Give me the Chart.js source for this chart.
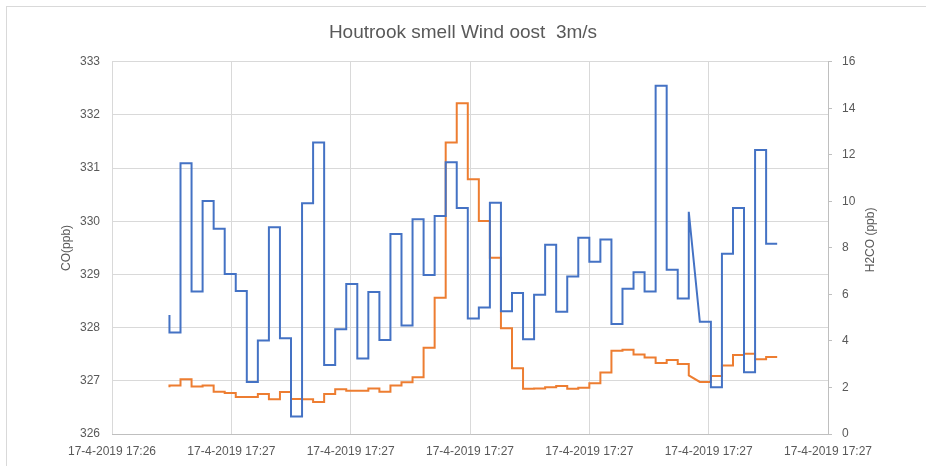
<!DOCTYPE html>
<html>
<head>
<meta charset="utf-8">
<title>Houtrook smell Wind oost 3m/s</title>
<script src="https://cdn.jsdelivr.net/npm/chart.js@4.4.1/dist/chart.umd.min.js"></script>
<style>
  html, body { margin: 0; padding: 0; background: #fff; }
  #wrap { width: 926px; height: 466px; }
</style>
</head>
<body>
<div id="wrap"><canvas id="chart" width="926" height="466"></canvas></div>
<script>
// sample times, seconds after 17:26:00 (one reading per second)
const sampleSeconds = [
  58, 59, 60, 61, 62, 63, 64, 65, 66, 67, 68, 69, 70, 71, 72, 73, 74, 75, 76,
  77, 78, 79, 80, 81, 82, 83, 84, 85, 86, 87, 88, 89, 90, 91, 92, 93, 94, 95,
  96, 97, 98, 99, 100, 101, 102, 103, 104, 105, 106, 107, 108, 109, 110, 111,
  112, 113
];

// CO (ppb), left axis
const coPpb = [
  328.24, 327.91, 331.09, 328.68, 330.38, 329.86, 329.01, 328.69, 326.98, 327.76,
  329.89, 327.80, 326.33, 330.34, 331.48, 327.30, 327.97, 328.82, 327.42, 328.67,
  327.77, 329.76, 328.04, 330.04, 328.99, 330.10, 331.11, 330.25, 328.17, 328.38,
  330.35, 328.31, 328.65, 327.78, 328.62, 329.56, 328.30, 328.96, 329.69, 329.24,
  329.66, 328.07, 328.73, 329.04, 328.68, 332.55, 329.09, 328.55, 330.18, 328.11,
  326.88, 329.39, 330.25, 327.16, 331.34, 329.58
];

// H2CO (ppb), right axis
const h2coPpb = [
  2.01, 2.08, 2.35, 2.04, 2.08, 1.82, 1.76, 1.59, 1.59, 1.72,
  1.49, 1.81, 1.50, 1.49, 1.38, 1.72, 1.92, 1.86, 1.86, 1.96,
  1.82, 2.09, 2.22, 2.44, 3.71, 5.86, 12.53, 14.22, 10.95, 9.16,
  7.58, 4.55, 2.83, 1.94, 1.96, 2.01, 2.06, 1.94, 1.99, 2.18,
  2.64, 3.58, 3.62, 3.42, 3.29, 3.05, 3.18, 3.01, 2.52, 2.24,
  2.49, 2.94, 3.40, 3.45, 3.21, 3.31
];

// readings whose value is not held until the next sample (line runs straight on)
const unheldSamples = [48];

// x axis ticks (Excel time axis, 10.8 s major unit)
const tickSeconds = [52.8, 63.6, 74.4, 85.2, 96, 106.8, 117.6];
const tickLabels = [
  "17-4-2019 17:26", "17-4-2019 17:27", "17-4-2019 17:27", "17-4-2019 17:27",
  "17-4-2019 17:27", "17-4-2019 17:27", "17-4-2019 17:27"
];

const coTicks = { min: 326, max: 333, step: 1 };
const h2coTicks = { min: 0, max: 16, step: 2 };

// hold each reading until the next one -> step line
function stepPoints(values) {
  const pts = [{ x: sampleSeconds[0], y: values[0] }];
  for (let i = 1; i < values.length; i++) {
    pts.push({ x: sampleSeconds[i - 1], y: values[i] });
    if (!unheldSamples.includes(i)) pts.push({ x: sampleSeconds[i], y: values[i] });
  }
  return pts;
}

const GRID = "#d9d9d9";
const AXIS = "#bfbfbf";
const TEXT = "#595959";

Chart.defaults.font.family = "'Liberation Sans', Arial, sans-serif";
Chart.defaults.color = TEXT;

/* white background + light chart frame */
const frame = {
  id: "frame",
  beforeDraw(chart) {
    const { ctx, width, height } = chart;
    ctx.save();
    ctx.fillStyle = "#fff";
    ctx.fillRect(0, 0, width, height);
    ctx.strokeStyle = GRID;
    ctx.lineWidth = 1;
    ctx.strokeRect(6.5, 6.5, width + 20, height + 20);
    ctx.restore();
  }
};

/* right axis title, reading bottom-to-top like Excel */
const rightTitle = {
  id: "rightTitle",
  afterDraw(chart) {
    const { ctx, chartArea } = chart;
    ctx.save();
    ctx.translate(871, (chartArea.top + chartArea.bottom) / 2 - 8);
    ctx.rotate(-Math.PI / 2);
    ctx.font = "12px 'Liberation Sans', Arial, sans-serif";
    ctx.fillStyle = TEXT;
    ctx.textAlign = "center";
    ctx.textBaseline = "middle";
    ctx.fillText("H2CO (ppb)", 0, 0);
    ctx.restore();
  }
};

new Chart(document.getElementById("chart"), {
  type: "line",
  data: {
    datasets: [
      {
        label: "CO",
        data: stepPoints(coPpb),
        yAxisID: "y",
        borderColor: "#4472c4",
        borderWidth: 2,
        pointRadius: 0,
        tension: 0,
        fill: false
      },
      {
        label: "H2CO",
        data: stepPoints(h2coPpb),
        yAxisID: "y1",
        borderColor: "#ed7d31",
        borderWidth: 2,
        pointRadius: 0,
        tension: 0,
        fill: false
      }
    ]
  },
  options: {
    responsive: false,
    animation: false,
    layout: { padding: 0 },
    plugins: {
      legend: { display: false },
      tooltip: { enabled: false },
      title: {
        display: true,
        text: "Houtrook smell Wind oost  3m/s",
        color: TEXT,
        font: { size: 19, weight: "normal" },
        padding: { top: 21, bottom: 18 }
      }
    },
    scales: {
      x: {
        type: "linear",
        min: tickSeconds[0],
        max: tickSeconds[tickSeconds.length - 1],
        afterBuildTicks(scale) {
          scale.ticks = tickSeconds.map(v => ({ value: v }));
        },
        afterFit(scale) { scale.height = 32; },
        grid: { color: GRID, drawTicks: false },
        border: { display: true, color: AXIS },
        ticks: {
          autoSkip: false,
          maxRotation: 0,
          padding: 10,
          font: { size: 12 },
          color: TEXT,
          callback: (value, index) => tickLabels[index]
        }
      },
      y: {
        position: "left",
        min: coTicks.min,
        max: coTicks.max,
        afterFit(scale) { scale.width = 112; },
        grid: { color: GRID, drawTicks: false },
        border: { display: false },
        ticks: { stepSize: coTicks.step, padding: 12, font: { size: 12 }, color: TEXT },
        title: {
          display: true,
          text: "CO(ppb)",
          color: TEXT,
          font: { size: 12 },
          padding: { top: 59, bottom: 0 }
        }
      },
      y1: {
        position: "right",
        min: h2coTicks.min,
        max: h2coTicks.max,
        afterFit(scale) { scale.width = 98; },
        grid: { drawOnChartArea: false, drawTicks: true, tickLength: 4, color: AXIS },
        border: { display: true, color: AXIS },
        ticks: { stepSize: h2coTicks.step, padding: 10, font: { size: 12 }, color: TEXT }
      }
    }
  },
  plugins: [frame, rightTitle]
});
</script>
</body>
</html>
